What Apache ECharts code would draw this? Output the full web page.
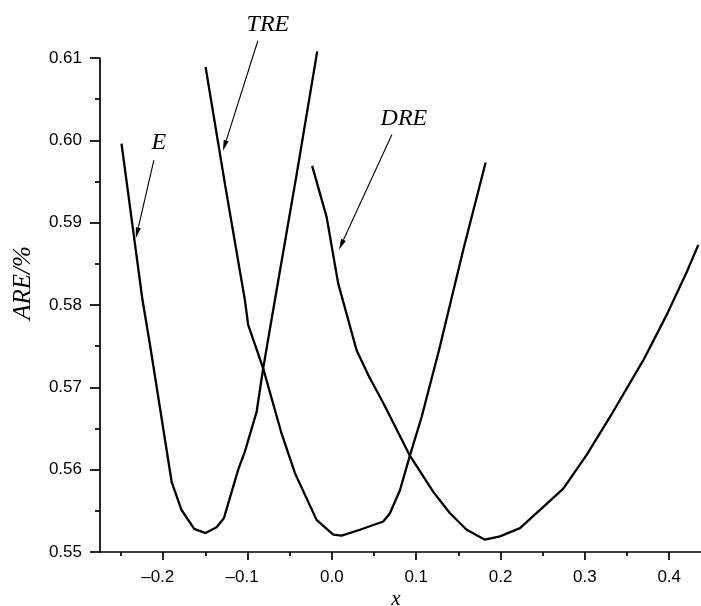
<!DOCTYPE html>
<html>
<head>
<meta charset="utf-8">
<script src="https://cdn.jsdelivr.net/npm/echarts@6/dist/echarts.min.js"></script>
<style>
  html, body { margin: 0; padding: 0; background: #fff; }
  #chart { width: 701px; height: 606px; }
</style>
</head>
<body>
<div id="chart"></div>
<script>
// curves: [x, ARE]
var eData = [
  [-0.2495, 0.5996], [-0.2246, 0.5806], [-0.2159, 0.5753], [-0.190, 0.5585],
  [-0.1783, 0.5551], [-0.1633, 0.5528], [-0.1498, 0.5523], [-0.1368, 0.5530],
  [-0.1281, 0.5541], [-0.1111, 0.5600], [-0.1032, 0.5622], [-0.0893, 0.5670],
  [-0.0815, 0.5723], [-0.0676, 0.5806], [-0.0419, 0.5958], [-0.0174, 0.6108]
];
var treData = [
  [-0.1498, 0.6089], [-0.1265, 0.5945], [-0.1032, 0.5806], [-0.0993, 0.5776],
  [-0.0815, 0.5723], [-0.0597, 0.5644], [-0.0439, 0.5596], [-0.0182, 0.5539],
  [0.0016, 0.5521], [0.0115, 0.5520], [0.0332, 0.5527], [0.0609, 0.5537],
  [0.0688, 0.5547], [0.0807, 0.5575], [0.0925, 0.5617], [0.1064, 0.5664],
  [0.1270, 0.5745], [0.1558, 0.5867], [0.1823, 0.5973]
];
var dreData = [
  [-0.0234, 0.5969], [-0.0063, 0.5907], [0.0075, 0.5826], [0.0293, 0.5745],
  [0.0431, 0.5715], [0.0609, 0.5681], [0.0925, 0.5617], [0.1202, 0.5573],
  [0.1400, 0.5547], [0.1598, 0.5527], [0.1815, 0.5515], [0.1993, 0.5519],
  [0.2230, 0.5529], [0.2488, 0.5553], [0.2744, 0.5577], [0.3021, 0.5618],
  [0.3298, 0.5664], [0.3693, 0.5733], [0.3970, 0.5788], [0.4208, 0.5840],
  [0.4345, 0.5873]
];

var xMajor = [-0.2, -0.1, 0, 0.1, 0.2, 0.3, 0.4];
var xMinor = [-0.25, -0.15, -0.05, 0.05, 0.15, 0.25, 0.35];

// annotations: label position, arrow start, arrow tip (data units)
var notes = [
  { text: 'E', at: [-0.2052, 0.5997], from: [-0.2111, 0.5976], to: [-0.2325, 0.5881] },
  { text: 'TRE', at: [-0.0759, 0.6140], from: [-0.0878, 0.6121], to: [-0.1293, 0.5987] },
  { text: 'DRE', at: [0.0854, 0.6026], from: [0.0712, 0.6007], to: [0.0083, 0.5867] }
];

var sans = 'Liberation Sans, Arial, sans-serif';
var serif = 'Liberation Serif, Times New Roman, serif';

function curve(name, data) {
  return {
    name: name,
    type: 'line',
    data: data,
    showSymbol: false,
    clip: false,
    lineStyle: { color: '#000', width: 2.3 }
  };
}

var chart = echarts.init(document.getElementById('chart'));
var option = {
  animation: false,
  grid: { left: 100, right: 0, top: 58, bottom: 54 },
  xAxis: [
    {
      type: 'value',
      min: -0.275,
      max: 0.4377,
      position: 'bottom',
      axisLine: { show: true, onZero: false, lineStyle: { color: '#000', width: 1.7 } },
      axisTick: { show: true, customValues: xMajor, length: 8, lineStyle: { color: '#000', width: 1.7 } },
      axisLabel: {
        customValues: xMajor,
        margin: 17,
        color: '#000',
        fontFamily: sans,
        fontSize: 17,
        formatter: function (v) {
          if (v < -1e-9) return '{n|\u2013' + Math.abs(v).toFixed(1) + '}';
          return Math.abs(v).toFixed(1);
        },
        rich: {
          n: { padding: [0, 11, 0, 0], color: '#000', fontFamily: sans, fontSize: 17 }
        }
      },
      splitLine: { show: false }
    },
    {
      type: 'value',
      min: -0.275,
      max: 0.4377,
      position: 'bottom',
      axisLine: { show: false },
      axisTick: { show: true, customValues: xMinor, length: 4, lineStyle: { color: '#000', width: 1.7 } },
      axisLabel: { show: false },
      splitLine: { show: false }
    }
  ],
  yAxis: {
    type: 'value',
    min: 0.55,
    max: 0.61,
    interval: 0.01,
    axisLine: { show: true, onZero: false, lineStyle: { color: '#000', width: 1.7 } },
    axisTick: { show: true, length: 10, lineStyle: { color: '#000', width: 1.7 } },
    minorTick: { show: true, splitNumber: 2, length: 5, lineStyle: { color: '#000', width: 1.7 } },
    axisLabel: {
      margin: 18,
      color: '#000',
      fontFamily: sans,
      fontSize: 17,
      formatter: function (v) { return v.toFixed(2); }
    },
    splitLine: { show: false },
    minorSplitLine: { show: false }
  },
  series: [
    curve('E', eData),
    curve('TRE', treData),
    curve('DRE', dreData)
  ]
};
chart.setOption(option);

// titles and arrows, placed through the axes
var graphics = [
  {
    type: 'text', x: 23, y: 283, rotation: Math.PI / 2,
    style: { text: 'ARE/%', fill: '#000', font: 'italic 25px ' + serif, align: 'center', verticalAlign: 'middle' }
  },
  {
    type: 'text', x: 396, y: 599,
    style: { text: 'x', fill: '#000', font: 'italic 21px ' + serif, align: 'center', verticalAlign: 'middle' }
  }
];
var finder = { xAxisIndex: 0, yAxisIndex: 0 };
notes.forEach(function (n) {
  var p = chart.convertToPixel(finder, n.at);
  var a = chart.convertToPixel(finder, n.from);
  var b = chart.convertToPixel(finder, n.to);
  var dx = b[0] - a[0], dy = b[1] - a[1];
  var len = Math.sqrt(dx * dx + dy * dy);
  var ux = dx / len, uy = dy / len;
  var hl = 11, hw = 2.6;
  var base = [b[0] - ux * hl, b[1] - uy * hl];
  graphics.push({
    type: 'text', x: p[0], y: p[1],
    style: { text: n.text, fill: '#000', font: 'italic 24px ' + serif, align: 'center', verticalAlign: 'middle' }
  });
  graphics.push({
    type: 'line',
    shape: { x1: a[0], y1: a[1], x2: base[0], y2: base[1] },
    style: { stroke: '#000', lineWidth: 1.1 }
  });
  graphics.push({
    type: 'polygon',
    shape: { points: [b, [base[0] - uy * hw, base[1] + ux * hw], [base[0] + uy * hw, base[1] - ux * hw]] },
    style: { fill: '#000' }
  });
});
chart.setOption({ graphic: graphics });
</script>
</body>
</html>
